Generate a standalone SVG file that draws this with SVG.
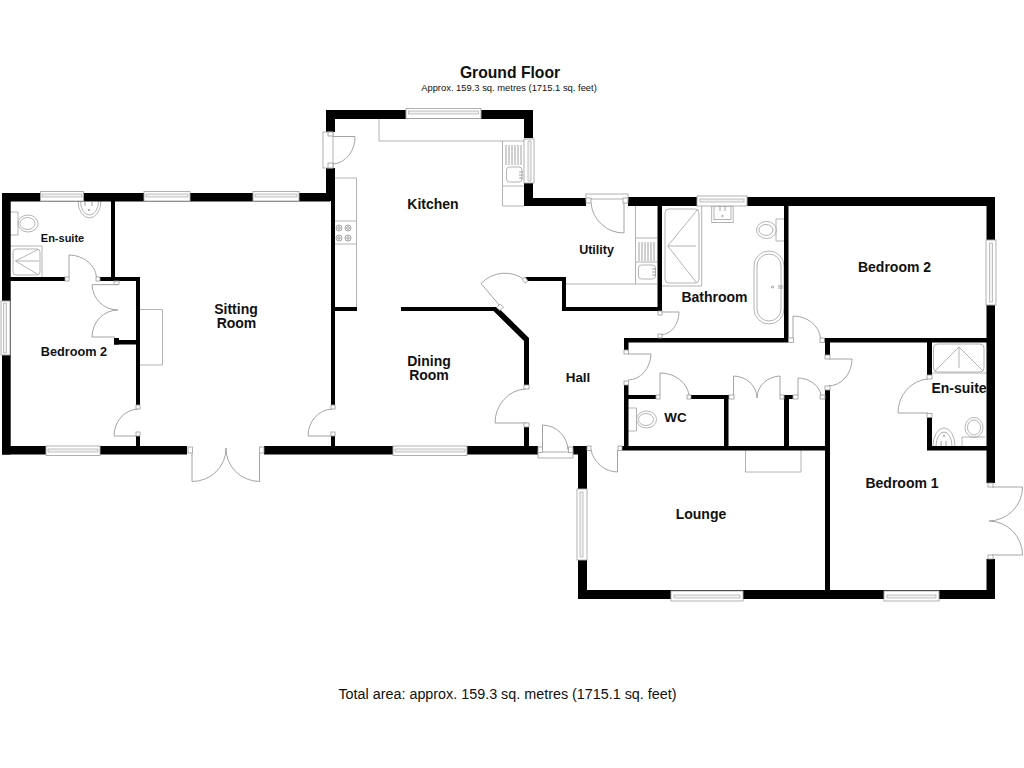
<svg xmlns="http://www.w3.org/2000/svg" width="1024" height="768" viewBox="0 0 1024 768">
<style>
.w{fill:#000}
.win{fill:#fff;stroke:#a8a8a8;stroke-width:.9}
.inner{fill:#f2f2f2;stroke:#a8a8a8;stroke-width:.7}
.d{fill:none;stroke:#9a9a9a;stroke-width:.9}
.j{fill:#fff;stroke:#9a9a9a;stroke-width:.8}
.f{fill:none;stroke:#ababab;stroke-width:.9}
.dk{fill:none;stroke:#8a8a8a;stroke-width:.8}
text{font-family:"Liberation Sans",Arial,sans-serif;fill:#111;text-anchor:middle}
.r{font-weight:bold;font-size:14px}
</style>
<rect width="1024" height="768" fill="#fff"/>
<g id="fixtures">
<path class="f" d="M140 309.5H162.5V365H140M745.5 450V472H801V450"/>
<path class="f" d="M379 119V141H524M502.5 141V206H524M502.5 186H524"/>
<rect class="f" x="506.5" y="167" width="15.5" height="15" rx="3"/>
<path class="dk" d="M506 145V165M509 145V165M512 145V165M515 145V165M518 145V165M521 145V165"/>
<path class="f" d="M335 178H356.5V307M335 221H356.5M335 244H356.5"/>
<g class="dk"><circle cx="339" cy="228" r="3"/><circle cx="348" cy="228" r="3"/><circle cx="339" cy="238" r="3"/><circle cx="348" cy="238" r="3"/><circle cx="339" cy="228" r="1.3"/><circle cx="348" cy="228" r="1.3"/><circle cx="339" cy="238" r="1.3"/><circle cx="348" cy="238" r="1.3"/></g>
<path class="f" d="M635.5 206V284H566M635.5 238H657M635.5 262H657M635.5 284H657"/>
<rect class="f" x="638.5" y="265" width="17" height="14" rx="3"/>
<path class="dk" d="M639 242V261M642 242V261M645 242V261M648 242V261M651 242V261M654 242V261"/>
<path class="dk" d="M652 269H656M652 272H656M652 275H656M519 172H523M519 175H523M519 178H523"/>
<path class="f" d="M662 286H701.7V206"/>
<rect class="f" x="665" y="209" width="34" height="74" rx="4"/>
<path class="f" d="M667.7 246L698 209M667.7 246L696 282M667.7 246H696"/>
<rect class="f" x="711.7" y="206" width="21.5" height="16.5"/>
<rect class="f" x="714" y="206" width="17" height="13.5"/>
<path class="dk" d="M720 206V211M725 206V211"/><circle class="dk" cx="722.5" cy="216" r=".7"/>
<path class="f" d="M784 219H776V241H784"/>
<ellipse class="f" cx="766.5" cy="230" rx="10" ry="8.5"/>
<ellipse class="f" cx="766" cy="230" rx="7" ry="5.5"/>
<rect class="f" x="754" y="251" width="30" height="73" rx="15"/>
<rect class="f" x="757" y="254" width="24" height="67" rx="12"/>
<path class="dk" d="M778 286H783M778 288H783"/><circle class="dk" cx="772.5" cy="287" r="1"/>
<path class="f" d="M10 246H42V277"/>
<rect class="f" x="13" y="249" width="27" height="26" rx="3"/>
<path class="f" d="M15.5 261L38 249.5M15.5 261H39M15.5 261L38 274.5"/>
<path class="f" d="M10 212H18V235H10"/>
<ellipse class="f" cx="28" cy="223.5" rx="10" ry="8.5"/>
<ellipse class="f" cx="27.5" cy="223.5" rx="7.5" ry="6"/>
<path class="f" d="M78 201A11.5 17 0 0 0 101 201"/>
<path class="f" d="M80.5 201A9 14 0 0 0 98.500 201"/>
<path class="dk" d="M85 202V206M92 202V206"/><circle class="dk" cx="89" cy="210" r=".7"/>
<path class="f" d="M932 373H987"/>
<rect class="f" x="933.500" y="344" width="50.500" height="28" rx="4"/>
<path class="f" d="M959 347L935 371M959 347L983 371M959 347V368"/>
<path class="f" d="M933 446A11 18 0 0 1 955 446"/>
<path class="f" d="M936 446A8 14 0 0 1 952 446"/>
<path class="dk" d="M941 441V446M946 441V446"/><circle class="dk" cx="944" cy="436" r=".7"/>
<path class="f" d="M962 446V437H985"/>
<ellipse class="f" cx="974" cy="427.500" rx="9" ry="10"/>
<ellipse class="f" cx="974" cy="427.500" rx="6.500" ry="7.500"/>
<path class="f" d="M628 408H636.500V431H628"/>
<ellipse class="f" cx="646.500" cy="419.500" rx="10" ry="8.500"/>
<ellipse class="f" cx="646" cy="419.500" rx="7.500" ry="6"/>
</g>
<g id="walls" class="w">
<rect x="2" y="193" width="328" height="8.500"/>
<rect x="2" y="193" width="8.700" height="261.500"/>
<rect x="2" y="446" width="185" height="8.500"/>
<rect x="264" y="446" width="274" height="8.500"/>
<rect x="111" y="201" width="4" height="78"/>
<rect x="10" y="277" width="55" height="4"/>
<rect x="100" y="277" width="40" height="4"/>
<rect x="136" y="277" width="4" height="128"/>
<rect x="136" y="436" width="4" height="11"/>
<rect x="114" y="340" width="22" height="4.500"/>
<rect x="114" y="338" width="5" height="6.500"/>
<rect x="114" y="280" width="5" height="3"/>
<rect x="326" y="110" width="207" height="9"/>
<rect x="326" y="110" width="9" height="22"/>
<rect x="326" y="168" width="9" height="33"/>
<rect x="331" y="195" width="4" height="210"/>
<rect x="331" y="436" width="4" height="11"/>
<rect x="524" y="110" width="9" height="28"/>
<rect x="524" y="183" width="9" height="23"/>
<rect x="524" y="198" width="62" height="8"/>
<rect x="628" y="197" width="367" height="9"/>
<rect x="335" y="307" width="22" height="4"/>
<rect x="401" y="307" width="96" height="4"/>
<path d="M493.500 307H497.500L529 338V386H524V341L493.500 311Z"/>
<rect x="524" y="423" width="5" height="24"/>
<rect x="525" y="277" width="41" height="4"/>
<rect x="562" y="277" width="4" height="34"/>
<rect x="562" y="307" width="100" height="4"/>
<rect x="657.500" y="206" width="4.500" height="102"/>
<rect x="624" y="338" width="164.500" height="4.500"/>
<rect x="784" y="206" width="4.500" height="136"/>
<rect x="824" y="338" width="171" height="4.500"/>
<rect x="825" y="338" width="5" height="17"/>
<rect x="624" y="338" width="4.500" height="12"/>
<rect x="624" y="384" width="4.500" height="66"/>
<rect x="624" y="395" width="32" height="4"/>
<rect x="691" y="395" width="38" height="4"/>
<rect x="724" y="395" width="4.500" height="52"/>
<rect x="784" y="395" width="5" height="52"/>
<rect x="784" y="395" width="9" height="4"/>
<rect x="622" y="446" width="208" height="4.500"/>
<rect x="825" y="390" width="5" height="205"/>
<rect x="986.500" y="197" width="8.500" height="286"/>
<rect x="986.500" y="559" width="8.500" height="40"/>
<rect x="927" y="342" width="5" height="33"/>
<rect x="927" y="417" width="5" height="33"/>
<rect x="927" y="446" width="60" height="4.500"/>
<rect x="578" y="590" width="417" height="9"/>
<rect x="578" y="448" width="9" height="151"/>
<rect x="573" y="446" width="14" height="8.500"/>
</g>
<g id="windows">
<rect class="win" x="40.500" y="191.500" width="43" height="9.500"/><rect class="inner" x="42" y="194" width="40" height="3"/>
<rect class="win" x="144" y="191.500" width="46" height="9.500"/><rect class="inner" x="146" y="194" width="42" height="3"/>
<rect class="win" x="253" y="191.500" width="46" height="9.500"/><rect class="inner" x="255" y="194" width="42" height="3"/>
<rect class="win" x="1" y="301" width="9" height="54"/><rect class="inner" x="3.500" y="303" width="3" height="50"/>
<rect class="win" x="46" y="446" width="54" height="9.500"/><rect class="inner" x="48" y="449" width="50" height="3"/>
<rect class="win" x="393" y="446" width="74" height="9.500"/><rect class="inner" x="395" y="449" width="70" height="3"/>
<rect class="win" x="406" y="108.500" width="75" height="10"/><rect class="inner" x="408.500" y="111" width="70" height="3"/>
<rect class="win" x="524" y="139" width="10" height="44"/><rect class="inner" x="528" y="141" width="3" height="40"/>
<rect class="win" x="697" y="196" width="50" height="10"/><rect class="inner" x="700" y="199" width="44" height="3"/>
<rect class="win" x="986" y="240" width="10" height="65"/><rect class="inner" x="989.500" y="243" width="3" height="59"/>
<rect class="win" x="577" y="489" width="10" height="71"/><rect class="inner" x="580" y="492" width="3" height="65"/>
<rect class="win" x="671" y="591" width="72" height="10"/><rect class="inner" x="674" y="595" width="66" height="3"/>
<rect class="win" x="884" y="591" width="55" height="10"/><rect class="inner" x="887" y="595" width="49" height="3"/>
</g>
<g id="doors">
<path class="d" d="M69 277V255A28 24 0 0 1 96.500 277"/>
<rect class="j" x="65" y="277" width="4" height="4"/><rect class="j" x="96" y="277" width="4" height="4"/>
<path class="d" d="M118 284.700H92A26 26 0 0 0 118 310A26 27 0 0 0 92 337H115"/>
<rect class="j" x="114" y="281" width="5" height="3.500"/>
<path class="d" d="M136 436H114A25 27 0 0 1 138 409"/>
<rect class="j" x="136" y="405" width="4" height="4"/><rect class="j" x="136" y="432" width="4" height="4"/>
<path class="d" d="M331 436H308A25 27 0 0 1 332 409"/>
<rect class="j" x="331" y="405" width="4" height="4"/><rect class="j" x="331" y="432" width="4" height="4"/>
<path class="d" d="M192 453V481.500A34 33 0 0 0 226 448A34 33 0 0 0 259.500 481.500V453"/>
<rect class="j" x="188" y="447" width="4.500" height="6"/><rect class="j" x="259.500" y="447" width="4.500" height="6"/>
<rect class="win" x="323" y="132" width="10" height="36"/>
<path class="d" d="M333 136.500H355A23 27 0 0 1 333 164"/>
<rect class="j" x="328" y="132" width="5" height="4"/><rect class="j" x="328" y="163" width="5" height="5"/>
<rect class="win" x="586" y="194" width="42" height="5"/>
<path class="d" d="M624 199V233A33 33 0 0 1 591 203"/>
<rect class="j" x="586" y="198" width="5" height="5"/><rect class="j" x="623" y="198" width="5" height="5"/>
<path class="d" d="M500 306L481 283.500A33 33 0 0 1 525 280"/>
<path class="j" d="M525 277L528 281L525 283L522 279.500Z"/><path class="j" d="M500 304L503.500 307L500 310.500L496.500 307.500Z"/>
<path class="d" d="M662 312H679A19 23 0 0 1 661 335"/>
<rect class="j" x="658" y="311" width="4" height="4"/><rect class="j" x="658" y="334" width="4" height="4"/>
<path class="d" d="M628 354H651A23 27 0 0 1 628 380"/>
<rect class="j" x="624" y="350" width="4.500" height="4"/><rect class="j" x="624" y="381" width="4.500" height="4"/>
<path class="d" d="M660 395V373A29 25 0 0 1 689 395"/>
<rect class="j" x="656" y="395" width="4" height="4"/><rect class="j" x="687" y="395" width="4" height="4"/>
<path class="d" d="M733.500 395V376A24 22 0 0 1 757 398A24 22 0 0 1 780 376V395"/>
<rect class="j" x="729" y="395" width="5" height="4"/><rect class="j" x="780" y="395" width="4" height="4"/>
<path class="d" d="M798 395V378A24 20 0 0 1 821 395"/>
<rect class="j" x="793" y="395" width="5" height="4"/><rect class="j" x="820" y="395" width="5" height="4"/>
<path class="d" d="M829 359H852A24 27 0 0 1 828 386"/>
<rect class="j" x="825" y="355" width="5" height="4"/><rect class="j" x="825" y="386" width="5" height="4"/>
<path class="d" d="M793 338V316A28 24 0 0 1 820.500 338"/>
<rect class="j" x="788.500" y="338" width="5" height="4.500"/><rect class="j" x="820" y="338" width="4.500" height="4.500"/>
<path class="d" d="M928 413H898A32 34 0 0 1 928 379"/>
<rect class="j" x="927" y="375" width="5" height="4"/><rect class="j" x="927" y="413.500" width="5" height="4"/>
<path class="d" d="M992 487H1022.500A34 34 0 0 1 989 521A34 34 0 0 1 1022.500 555H992"/>
<rect class="j" x="988" y="483" width="5" height="4"/><rect class="j" x="988" y="555" width="5" height="4"/>
<path class="d" d="M527 423H495A32 34 0 0 1 526 389"/>
<rect class="j" x="524" y="385" width="5" height="4"/><rect class="j" x="524" y="423" width="5" height="4"/>
<rect class="win" x="538" y="452" width="35" height="6"/>
<path class="d" d="M542.500 451V425A26 26 0 0 1 568 450"/>
<rect class="j" x="538" y="447" width="4.500" height="5.500"/><rect class="j" x="568.500" y="447" width="4.500" height="5.500"/>
<path class="d" d="M617.500 450V472A28 28 0 0 1 591 450"/>
<rect class="j" x="587" y="446" width="4" height="4.500"/><rect class="j" x="618" y="446" width="4" height="4.500"/>
</g>
<g id="labels">
<text x="510" y="78" font-weight="bold" font-size="15.700">Ground Floor</text>
<text x="509" y="91" font-size="9.400">Approx. 159.3 sq. metres (1715.1 sq. feet)</text>
<text x="507.500" y="699" font-size="14.350">Total area: approx. 159.3 sq. metres (1715.1 sq. feet)</text>
<text class="r" x="62.500" y="242" style="font-size:11px">En-suite</text>
<text class="r" x="74" y="356" style="font-size:12.700px">Bedroom 2</text>
<text class="r" x="236" y="314">Sitting</text>
<text class="r" x="236.500" y="328">Room</text>
<text class="r" x="433" y="209">Kitchen</text>
<text class="r" x="596.500" y="254" style="font-size:12.500px">Utility</text>
<text class="r" x="429" y="366">Dining</text>
<text class="r" x="429" y="380">Room</text>
<text class="r" x="578" y="382" style="font-size:13.400px">Hall</text>
<text class="r" x="675.500" y="422" style="font-size:13.400px">WC</text>
<text class="r" x="714.500" y="302">Bathroom</text>
<text class="r" x="894.500" y="272">Bedroom 2</text>
<text class="r" x="959" y="393">En-suite</text>
<text class="r" x="902" y="488">Bedroom 1</text>
<text class="r" x="701" y="519">Lounge</text>
</g>
</svg>
